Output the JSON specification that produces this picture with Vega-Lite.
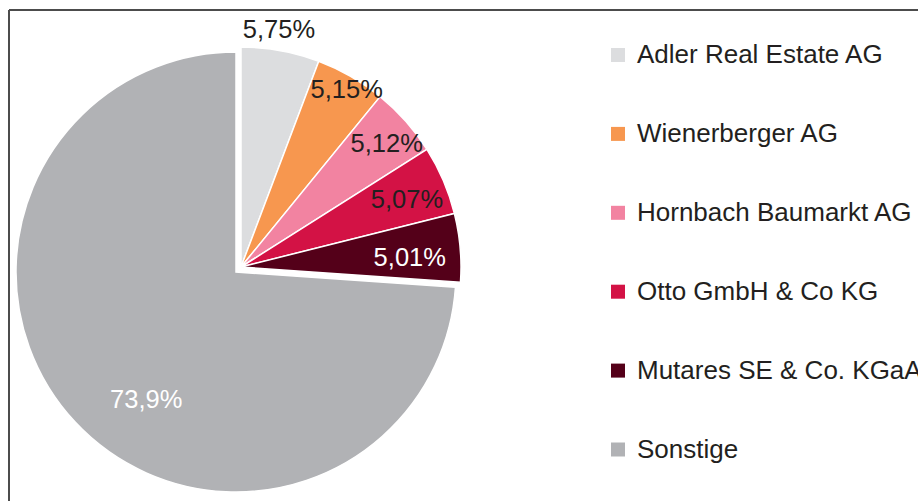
{
  "$schema": "https://vega.github.io/schema/vega-lite/v6.json",
  "width": 920,
  "height": 500,
  "autosize": "none",
  "padding": {"left": 9, "top": 10, "right": 0, "bottom": 0},
  "background": "white",
  "config": {"view": {"stroke": null}, "font": "Liberation Sans"},
  "data": {"values": [
    {"name": "Adler Real Estate AG", "value": 5.75, "label": "5,75%", "order": 1},
    {"name": "Wienerberger AG", "value": 5.15, "label": "5,15%", "order": 2},
    {"name": "Hornbach Baumarkt AG", "value": 5.12, "label": "5,12%", "order": 3},
    {"name": "Otto GmbH & Co KG", "value": 5.07, "label": "5,07%", "order": 4},
    {"name": "Mutares SE & Co. KGaA", "value": 5.01, "label": "5,01%", "order": 5},
    {"name": "Sonstige", "value": 73.9, "label": "73,9%", "order": 6}
  ]},
  "layer": [
    {
      "mark": {"type": "rule", "color": "#4d4d4d", "strokeWidth": 1.5},
      "encoding": {"x": {"value": 0}}
    },
    {
      "mark": {"type": "rule", "color": "#4d4d4d", "strokeWidth": 1.5},
      "encoding": {"y": {"value": 0}}
    },
    {
      "mark": {"type": "arc", "radius": 220, "x": 229.5, "y": 259.5, "xOffset": 2.5, "yOffset": -2.5, "stroke": "white", "strokeWidth": 1.5},
      "encoding": {
        "theta": {"field": "value", "type": "quantitative", "stack": true, "scale": {"domain": [0, 100]}},
        "order": {"field": "order", "type": "quantitative"},
        "color": {"field": "name", "type": "nominal",
          "scale": {"domain": ["Adler Real Estate AG", "Wienerberger AG", "Hornbach Baumarkt AG", "Otto GmbH & Co KG", "Mutares SE & Co. KGaA", "Sonstige"],
                    "range": ["#dcdddf", "#f7974f", "#f283a1", "#d31245", "#540019", "#b1b2b5"]},
          "sort": null,
          "legend": {"orient": "none", "legendX": 596, "legendY": 32, "title": null, "symbolType": "square", "symbolSize": 196, "symbolStrokeWidth": 0, "symbolOpacity": 1, "labelFontSize": 26, "labelColor": "#231f20", "labelFont": "Liberation Sans", "rowPadding": 52.9, "labelOffset": 6, "padding": 0, "labelLimit": 400}},
        "opacity": {"condition": {"test": "datum.name === 'Sonstige'", "value": 0}, "value": 1}
      }
    },
    {
      "mark": {"type": "arc", "radius": 220, "x": 229.5, "y": 259.5, "xOffset": -2.5, "yOffset": 2.5, "stroke": "white", "strokeWidth": 1.5},
      "encoding": {
        "theta": {"field": "value", "type": "quantitative", "stack": true},
        "order": {"field": "order", "type": "quantitative"},
        "color": {"field": "name", "type": "nominal"},
        "opacity": {"condition": {"test": "datum.name === 'Sonstige'", "value": 1}, "value": 0}
      }
    },
    {
      "mark": {"type": "text", "radius": 240, "thetaOffset": -0.022, "x": 229.5, "y": 259.5, "xOffset": 2.5, "yOffset": -2.5, "fontSize": 25.5, "font": "Liberation Sans", "color": "#231f20", "align": "center", "baseline": "middle"},
      "encoding": {
        "theta": {"field": "value", "type": "quantitative", "stack": true},
        "order": {"field": "order", "type": "quantitative"},
        "text": {"condition": {"test": "datum.name === 'Adler Real Estate AG'", "field": "label"}, "value": ""}}
    },
    {
      "mark": {"type": "text", "radius": 206, "thetaOffset": 0.016, "x": 229.5, "y": 259.5, "xOffset": 2.5, "yOffset": -2.5, "fontSize": 25.5, "font": "Liberation Sans", "color": "#231f20", "align": "center", "baseline": "middle"},
      "encoding": {
        "theta": {"field": "value", "type": "quantitative", "stack": true},
        "order": {"field": "order", "type": "quantitative"},
        "text": {"condition": {"test": "datum.name === 'Wienerberger AG'", "field": "label"}, "value": ""}}
    },
    {
      "mark": {"type": "text", "radius": 191, "thetaOffset": 0.022, "x": 229.5, "y": 259.5, "xOffset": 2.5, "yOffset": -2.5, "fontSize": 25.5, "font": "Liberation Sans", "color": "#231f20", "align": "center", "baseline": "middle"},
      "encoding": {
        "theta": {"field": "value", "type": "quantitative", "stack": true},
        "order": {"field": "order", "type": "quantitative"},
        "text": {"condition": {"test": "datum.name === 'Hornbach Baumarkt AG'", "field": "label"}, "value": ""}}
    },
    {
      "mark": {"type": "text", "radius": 179, "thetaOffset": 0.021, "x": 229.5, "y": 259.5, "xOffset": 2.5, "yOffset": -2.5, "fontSize": 25.5, "font": "Liberation Sans", "color": "#231f20", "align": "center", "baseline": "middle"},
      "encoding": {
        "theta": {"field": "value", "type": "quantitative", "stack": true},
        "order": {"field": "order", "type": "quantitative"},
        "text": {"condition": {"test": "datum.name === 'Otto GmbH & Co KG'", "field": "label"}, "value": ""}}
    },
    {
      "mark": {"type": "text", "radius": 169, "thetaOffset": 0.036, "x": 229.5, "y": 259.5, "xOffset": 2.5, "yOffset": -2.5, "fontSize": 25.5, "font": "Liberation Sans", "color": "white", "align": "center", "baseline": "middle"},
      "encoding": {
        "theta": {"field": "value", "type": "quantitative", "stack": true},
        "order": {"field": "order", "type": "quantitative"},
        "text": {"condition": {"test": "datum.name === 'Mutares SE & Co. KGaA'", "field": "label"}, "value": ""}}
    },
    {
      "mark": {"type": "text", "radius": 156, "thetaOffset": -0.207, "x": 229.5, "y": 259.5, "xOffset": -2.5, "yOffset": 2.5, "fontSize": 25.5, "font": "Liberation Sans", "color": "white", "align": "center", "baseline": "middle"},
      "encoding": {
        "theta": {"field": "value", "type": "quantitative", "stack": true},
        "order": {"field": "order", "type": "quantitative"},
        "text": {"condition": {"test": "datum.name === 'Sonstige'", "field": "label"}, "value": ""}}
    }
  ]
}
